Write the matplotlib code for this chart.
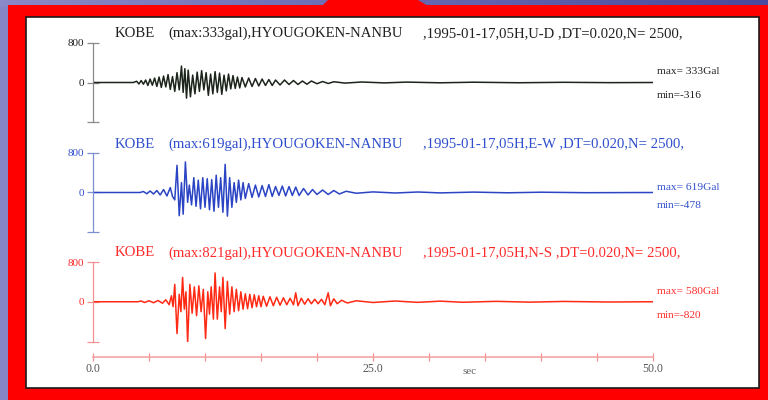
import numpy as np
import matplotlib.pyplot as plt
from matplotlib.patches import Rectangle, Polygon
from matplotlib.colors import LinearSegmentedColormap

plt.rcParams['font.family'] = ['Liberation Serif', 'DejaVu Serif']

# time axis, seconds
t_max = 50.0
time_ticks = [0.0, 25.0, 50.0]
time_labels = ['0.0', '25.0', '50.0']

# U-D component (black), extrema
ud_t = [0, 3.6, 3.9, 4.1, 4.3, 4.5, 4.7, 4.9, 5.1, 5.3, 5.5, 5.7, 5.9, 6.1, 6.3, 6.5, 6.7, 6.9,
        7.1, 7.3, 7.5, 7.7, 7.9, 8.05, 8.2, 8.35, 8.5, 8.7, 8.9, 9.1, 9.3, 9.5, 9.7, 9.9, 10.1,
        10.3, 10.5, 10.7, 10.9, 11.1, 11.3, 11.5, 11.7, 11.9, 12.1, 12.3, 12.5, 12.7, 12.9, 13.1,
        13.3, 13.6, 13.9, 14.2, 14.5, 14.8, 15.1, 15.4, 15.7, 16.0, 16.3, 16.7, 17.1, 17.5, 17.9,
        18.3, 18.7, 19.1, 19.5, 20.0, 20.5, 21.0, 21.5, 22.5, 24, 26, 28, 31, 34, 38, 42, 46, 50]
ud_a = [0, 0, 25, -30, 40, -35, 50, -60, 70, -55, 90, -80, 110, -100, 130, -90, 160, -140,
        120, -180, 200, -150, 333, -200, 280, -316, 250, -290, 150, -230, 210, -180, 240, -150, 200,
        -260, 170, -230, 220, -200, 190, -240, 150, -170, 170, -130, 140, -120, 110, -110,
        100, -90, 90, -80, 80, -70, 70, -60, 60, -60, 50, -50, 50, -40, 40,
        -40, 30, -35, 30, -25, 20, -20, 15, -12, 10, -8, 8, -6, 6, -5, 4, -3, 0]

# E-W component (blue)
ew_t = [0, 4.2, 4.5, 4.8, 5.1, 5.4, 5.7, 6.0, 6.3, 6.6, 6.9, 7.1, 7.3, 7.5, 7.7, 7.9, 8.05,
        8.25, 8.45, 8.6, 8.8, 9.0, 9.2, 9.4, 9.6, 9.8, 10.0, 10.2, 10.4, 10.6, 10.8, 11.0, 11.2,
        11.4, 11.6, 11.8, 12.0, 12.2, 12.4, 12.6, 12.8, 13.0, 13.2, 13.4, 13.6, 13.9, 14.2, 14.5,
        14.8, 15.1, 15.4, 15.7, 16.0, 16.3, 16.6, 16.9, 17.2, 17.5, 17.8, 18.1, 18.4, 18.8, 19.2,
        19.6, 20.0, 20.5, 21.0, 21.5, 22.0, 22.6, 23.5, 25, 27, 29, 31, 34, 37, 40, 44, 50]
ew_a = [0, 0, 20, -25, 30, -30, 40, -50, 60, -70, 100, -80, -150, 550, -470, 200, -440,
        619, -200, 150, -250, 300, -280, 250, -330, 300, -300, 280, -350, 260, -380, 350, -300,
        300, -400, 570, -478, 300, -300, 200, -200, 250, -150, 200, -120, 180, -100, 150,
        -90, 140, -80, 160, -80, 120, -60, 130, -70, 120, -60, 110, -60, 80, -50,
        60, -40, 50, -40, 40, -30, 25, -15, 12, -10, 10, -8, 8, -6, 6, -4, 0]

# N-S component (red)
ns_t = [0, 4.0, 4.3, 4.6, 5.0, 5.4, 5.8, 6.2, 6.5, 6.8, 7.0, 7.15, 7.3, 7.5, 7.7, 7.85, 8.0,
        8.15, 8.3, 8.45, 8.65, 8.85, 9.05, 9.25, 9.45, 9.65, 9.85, 10.05, 10.25, 10.4, 10.55,
        10.75, 10.9, 11.1, 11.3, 11.45, 11.6, 11.8, 12.0, 12.2, 12.4, 12.6, 12.8, 13.0, 13.2,
        13.4, 13.6, 13.8, 14.0, 14.2, 14.4, 14.6, 14.8, 15.0, 15.2, 15.5, 15.8, 16.1, 16.4, 16.7,
        17.0, 17.3, 17.6, 17.9, 18.1, 18.3, 18.6, 18.9, 19.2, 19.5, 19.8, 20.1, 20.4, 20.7, 21.0,
        21.2, 21.5, 21.8, 22.2, 22.7, 23.5, 25, 27, 29, 31, 33, 36, 39, 42, 46, 50]
ns_a = [0, 0, 15, -15, 20, -20, 25, -30, 40, -60, 120, -100, 350, -640, 150, -200, 490,
        -150, 200, -820, 350, -230, 300, -280, 320, -200, 250, -740, 200, -250, 300,
        -350, 580, -350, 300, -200, 490, -540, 410, -250, 300, -200, 250, -180, 200,
        -150, 160, -140, 150, -120, 140, -100, 120, -100, 110, -90, 100, -80, 90, -70,
        80, -60, 70, -60, 180, -80, 70, -50, 60, -40, 50, -40, 50, -60, 180,
        -80, 60, -40, 30, -25, 20, -15, 15, -12, 12, -10, 8, -8, 6, -5, 0]

components = ['U-D', 'E-W', 'N-S']
title_max = [333, 619, 821]
label_max = [333, 619, 580]
label_min = [-316, -478, -820]
traces = [(ud_t, ud_a), (ew_t, ew_a), (ns_t, ns_a)]

trace_colors = ['#1c241c', '#2a44c4', '#ff2a14']
text_colors = ['#202020', '#2f4fcc', '#ff2a2a']
axis_colors = ['#8a8a8a', '#7f8fcf', '#f39090']

W, H = 768, 400
fig = plt.figure(figsize=(W / 100, H / 100), dpi=100)
fig.patch.set_facecolor('#8585c5')

# frame, drawn in pixel coordinates
bg = fig.add_axes([0, 0, 1, 1], zorder=-5)
bg.axis('off')
grad = np.linspace(0, 1, 256)[None, :]
top_cmap = LinearSegmentedColormap.from_list('top', ['#8a8ac8', '#4a4a9e'])
bg.imshow(grad, extent=[0, W, 6, 0], aspect='auto', cmap=top_cmap)
bg.add_patch(Rectangle((8, 5), W - 8, H - 5, facecolor='#ff0000', edgecolor='none'))
bg.add_patch(Polygon([(322, 6), (328, 0), (418, 0), (428, 6)], closed=True,
                     facecolor='#ff0000', edgecolor='none'))
bg.add_patch(Rectangle((26, 17), 733, 371, facecolor='white', edgecolor='#1a1a1a', lw=1.2))
bg.set_xlim(0, W)
bg.set_ylim(H, 0)

x0, x1 = 93, 653
tops = [43, 153, 262]
bottoms = [122, 232, 341.5]
zeros = [82.5, 192.5, 301.7]
title_y = [33.5, 144, 253]
max_y = [72, 187, 291]

for i in range(3):
    ax = fig.add_axes([x0 / W, 1 - bottoms[i] / H, (x1 - x0) / W, (bottoms[i] - tops[i]) / H])
    ax.patch.set_alpha(0)
    t, a = traces[i]
    ax.plot(t, a, color=trace_colors[i], lw=1.1)
    ax.set_xlim(0, t_max)
    ax.set_ylim(-800, 800)
    for s in ['top', 'right', 'bottom']:
        ax.spines[s].set_visible(False)
    ax.spines['left'].set_color(axis_colors[i])
    ax.spines['left'].set_linewidth(0.9)
    ax.set_xticks([])
    ax.set_yticks([-800, 0, 800])
    ax.set_yticklabels(['', '0', '800'])
    ax.tick_params(axis='y', direction='inout', length=9, width=0.9, color=axis_colors[i],
                   labelcolor=text_colors[i], labelsize=8, pad=2)

    # header line
    yt = title_y[i]
    bg.text(115, yt, 'KOBE', color=text_colors[i], fontsize=10.6, va='center', ha='left')
    bg.text(168, yt, '(max:%dgal),HYOUGOKEN-NANBU' % title_max[i], color=text_colors[i],
            fontsize=10.6, va='center', ha='left')
    bg.text(423, yt, ',1995-01-17,05H,%s ,DT=0.020,N= 2500,' % components[i],
            color=text_colors[i], fontsize=10.6, va='center', ha='left')

    # peak values at right
    bg.text(657, max_y[i], 'max= %dGal' % label_max[i], color=text_colors[i], fontsize=8.2,
            va='center', ha='left')
    bg.text(657, zeros[i] + 13.5, 'min=%d' % label_min[i], color=text_colors[i], fontsize=8.2,
            va='center', ha='left')

# time scale
tx = fig.add_axes([x0 / W, 1 - 357 / H, (x1 - x0) / W, 0.0001])
tx.patch.set_alpha(0)
for s in ['top', 'right', 'left']:
    tx.spines[s].set_visible(False)
tx.spines['bottom'].set_color('#f4a4a4')
tx.spines['bottom'].set_linewidth(1.2)
tx.set_xlim(0, t_max)
tx.set_yticks([])
tx.set_xticks(time_ticks)
tx.set_xticklabels(time_labels)
tx.set_xticks(np.arange(5, 50, 5), minor=True)
tx.tick_params(axis='x', which='both', direction='inout', length=6, width=0.9,
               color='#f09090', labelcolor='#555555', labelsize=8.5, pad=1)
bg.text(470, 371, 'sec', color='#666666', fontsize=8, ha='center', va='center')

fig.savefig('out.png', dpi=100, facecolor=fig.get_facecolor())
